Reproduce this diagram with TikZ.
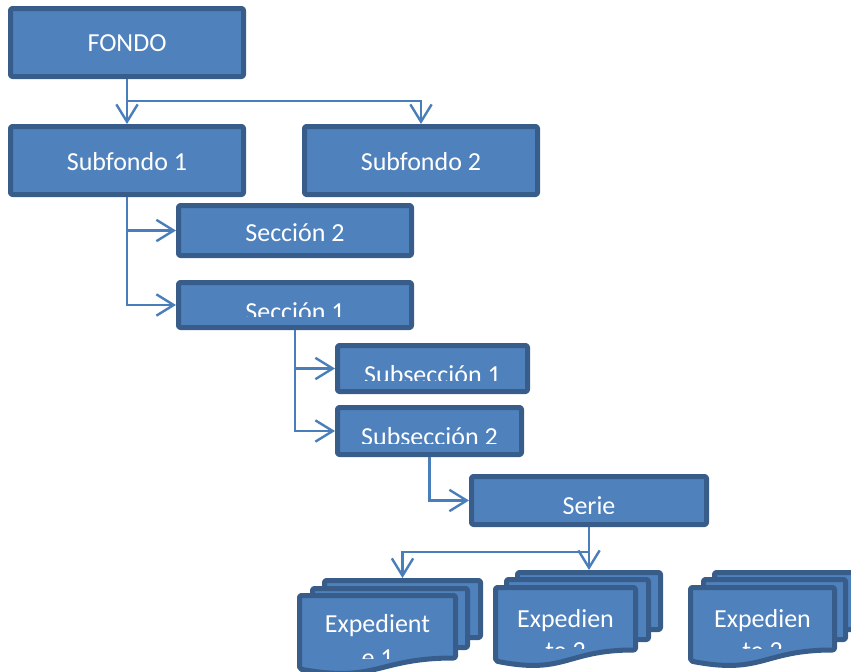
\documentclass[tikz,border=0pt]{standalone}
\usepackage{fontspec}
\setmainfont{Carlito}
\usetikzlibrary{arrows.meta,fit}
\definecolor{boxfill}{HTML}{4F81BD}
\definecolor{boxline}{HTML}{385D8A}
\definecolor{wire}{HTML}{4A7EBB}

\tikzset{
  bx/.style={draw=boxline, fill=boxfill, line width=3.75pt, rounded corners=1.5pt, inner sep=0pt, line join=round},
  lbl/.style={text=white, font=\fontsize{19.5}{23.5}\selectfont, anchor=base, inner sep=0pt},
  link/.style={draw=wire, line width=1.8pt, -{Straight Barb[length=13pt,width=16pt]}},
}

% box from its outer corners (x1,y1) (x2,y2), in pixel units
\newcommand\mkbox[5]{\node[bx, fit={(#2+2.5,#3+2.5) (#4-2.5,#5-2.5)}] (#1) {};}
% document with wavy bottom: left, top, right (outer edges)
\newcommand\mkdoc[4]{%
  \path[bx] (#2+2.5,#3+2.5) -- (#4-2.5,#3+2.5) -- (#4-2.5,#3+65)
    .. controls ({(#2+#4)/2},#3+65) and ({(#2+#4)/2},#3+90) .. (#2+2.5,#3+76) -- cycle;
  \coordinate (#1) at ({(#2+#4)/2},#3);}

\begin{document}
\begin{tikzpicture}[x=0.75pt,y=-0.75pt]
\clip (0,0) rectangle (851,672);

% hierarchy boxes
\mkbox{fondo}{8}{6}{246}{79}
\mkbox{sub1}{8}{124}{246}{197}
\mkbox{sub2}{302}{124}{540}{197}
\mkbox{sec2}{176}{203}{414}{258}
\mkbox{sec1}{176}{280}{414}{330}
\mkbox{ssec1}{335}{343}{530}{394}
\mkbox{ssec2}{335}{405}{524}{457}
\mkbox{serie}{469}{474}{709}{527}

% stacked documents
\mkbox{exp1c}{322}{578}{483}{640}
\mkbox{exp1b}{310}{586}{470}{650}
\mkdoc{exp1a}{297}{593}{458}

\mkbox{exp2c}{515}{570}{663}{632}
\mkbox{exp2b}{504}{577}{651}{642}
\mkdoc{exp2a}{493}{585}{638}

\mkbox{exp3c}{712}{570}{860}{632}
\mkbox{exp3b}{701}{577}{848}{642}
\mkdoc{exp3a}{688}{585}{837}

% labels
\node[lbl] (t-fondo) at (fondo.center |- 0,51) {FONDO};
\node[lbl] (t-sub1) at (sub1.center |- 0,170) {Subfondo 1};
\node[lbl] (t-sub2) at (sub2.center |- 0,170) {Subfondo 2};
\node[lbl] (t-sec2) at (sec2.center |- 0,241) {Sección 2};
\begin{scope}
  \clip (176,280) rectangle (414,316);
  \node[lbl] (t-sec1) at (sec1.center |- 0,320) {Sección 1};
\end{scope}
\begin{scope}
  \clip (335,343) rectangle (530,380);
  \node[lbl] (t-ssec1) at (ssec1.center |- 0,383) {Subsección 1};
\end{scope}
\begin{scope}
  \clip (335,405) rectangle (524,443);
  \node[lbl] (t-ssec2) at (ssec2.center |- 0,445) {Subsección 2};
\end{scope}
\begin{scope}
  \clip (469,474) rectangle (709,513);
  \node[lbl] (t-serie) at (serie.center |- 0,514) {Serie};
\end{scope}
\begin{scope}
  \clip (297,593) rectangle (458,658);
  \node[lbl] (t-exp1) at (exp1a |- 0,632) {Expedient};
  \node[lbl] (t-exp1b) at (exp1a |- 0,666) {e 1};
\end{scope}
\begin{scope}
  \clip (493,585) rectangle (638,648);
  \node[lbl] (t-exp2) at (exp2a |- 0,627) {Expedien};
  \node[lbl] (t-exp2b) at (exp2a |- 0,659) {te 2};
\end{scope}
\begin{scope}
  \clip (688,585) rectangle (837,648);
  \node[lbl] (t-exp3) at (exp3a |- 0,627) {Expedien};
  \node[lbl] (t-exp3b) at (exp3a |- 0,659) {te 2};
\end{scope}

% connectors
\coordinate (j1) at (fondo.south |- 0,101);
\coordinate (j2) at (serie.south |- 0,552);
\draw[link] (fondo.south) -- (sub1.north);
\draw[link] (j1) -| (sub2.north);
\draw[link] (sub1.south) |- (sec2.west);
\draw[link] (sub1.south) |- (sec1.west);
\draw[link] (sec1.south) |- (ssec1.west);
\draw[link] (sec1.south) |- (ssec2.west);
\draw[link] (ssec2.south) |- (serie.west);
\draw[link] (serie.south) -- (serie.south |- exp2c.north);
\draw[link] (j2) -| (exp1c.north);
\end{tikzpicture}
\end{document}
